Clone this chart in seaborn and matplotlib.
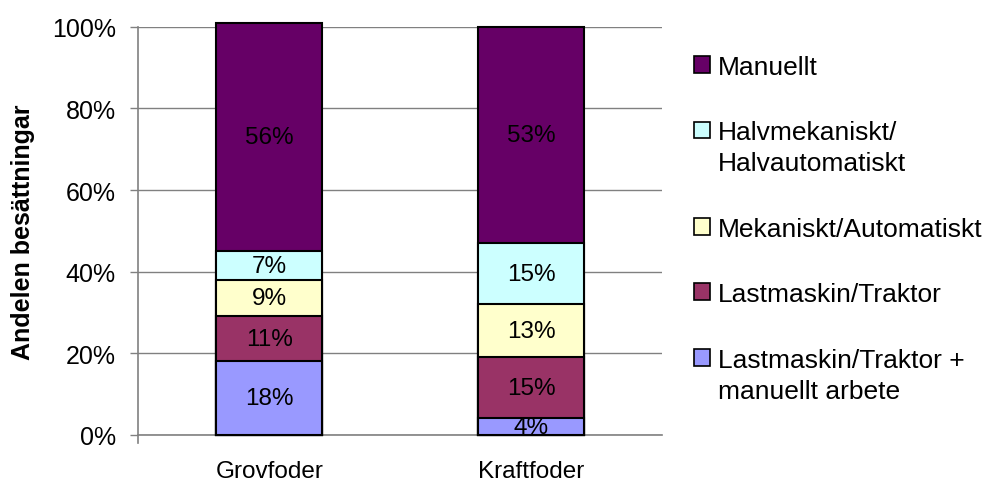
import numpy as np
import pandas as pd
import matplotlib.pyplot as plt
import seaborn as sns
from matplotlib.patches import Patch, Rectangle
from matplotlib.legend_handler import HandlerPatch

categories = ["Grovfoder", "Kraftfoder"]
series = ["Lastmaskin/Traktor +\nmanuellt arbete", "Lastmaskin/Traktor",
          "Mekaniskt/Automatiskt", "Halvmekaniskt/\nHalvautomatiskt", "Manuellt"]
lastmaskin_manuellt = [18, 4]
lastmaskin = [11, 15]
mekaniskt = [9, 13]
halvmekaniskt = [7, 15]
manuellt = [56, 53]
colors = ["#9999FF", "#993366", "#FFFFCC", "#CCFFFF", "#660066"]
yticks = [0, 20, 40, 60, 80, 100]

sns.set_style("white")
plt.rcParams['font.family'] = ['Liberation Sans', 'DejaVu Sans']
plt.rcParams['text.color'] = 'black'
plt.rcParams['xtick.color'] = 'black'
plt.rcParams['ytick.color'] = 'black'
plt.rcParams['axes.labelcolor'] = 'black'

values = np.array([lastmaskin_manuellt, lastmaskin, mekaniskt, halvmekaniskt, manuellt])
cum = values.cumsum(axis=0)

fig = plt.figure(figsize=(9.87, 4.81), dpi=100)
ax = fig.add_axes([0.14, 0.094, 0.531, 0.848])

# stacked bars: draw cumulative totals, largest first
for i in range(len(series) - 1, -1, -1):
    df = pd.DataFrame({"cat": categories, "val": cum[i]})
    sns.barplot(data=df, x="cat", y="val", color=colors[i], width=0.405,
                edgecolor="black", linewidth=1.5, saturation=1, ax=ax, clip_on=False, zorder=3)

for i in range(len(series)):
    for j in range(len(categories)):
        y = cum[i, j] - values[i, j] / 2
        ax.text(j, y, f"{values[i, j]}%", ha="center", va="center", fontsize=17.5,
                color="black", zorder=5)

ax.set_xlim(-0.5, 1.5)
ax.set_ylim(0, 100)
ax.set_yticks(yticks)
ax.set_yticklabels([f"{t}%" for t in yticks], fontsize=18)
ax.set_xticks([0, 1])
ax.set_xticklabels(categories, fontsize=17.5)
ax.set_xticks([0.5], minor=True)
ax.tick_params(axis="x", which="major", length=0, pad=18)
ax.tick_params(axis="x", which="minor", length=6, direction="out", color="#808080", width=1)
ax.tick_params(axis="y", length=6, direction="out", color="#808080", width=1, left=True, pad=10)
ax.set_xlabel("")
ax.set_ylabel("Andelen besättningar", fontsize=18, fontweight="bold", labelpad=12)
ax.yaxis.grid(True, color="#808080", linewidth=1)
ax.set_axisbelow(True)
for s in ["top", "right"]:
    ax.spines[s].set_visible(False)
for s in ["left", "bottom"]:
    ax.spines[s].set_color("#808080")
    ax.spines[s].set_linewidth(1.2)
ax.spines["left"].set_bounds(-2, 100)


def make_handler(shift):
    def patch_func(legend, orig_handle, xdescent, ydescent, width, height, fontsize):
        return Rectangle((-xdescent, -ydescent + shift * fontsize), width, height)
    return HandlerPatch(patch_func=patch_func)


handles = []
handler_map = {}
for i in range(len(series) - 1, -1, -1):
    h = Patch(facecolor=colors[i], edgecolor="black", linewidth=1.2, label=series[i])
    handles.append(h)
    handler_map[h] = make_handler(0.68 if "\n" in series[i] else 0.0)

leg = fig.legend(handles=handles, handler_map=handler_map, loc="upper left",
                 bbox_to_anchor=(0.703, 0.884), frameon=False,
                 fontsize=19, handlelength=0.6, handleheight=0.6, handletextpad=0.3,
                 labelspacing=1.57, borderaxespad=0, borderpad=0)
for t in leg.get_texts():
    t.set_linespacing(1.37)

fig.savefig("out.png", dpi=100)
